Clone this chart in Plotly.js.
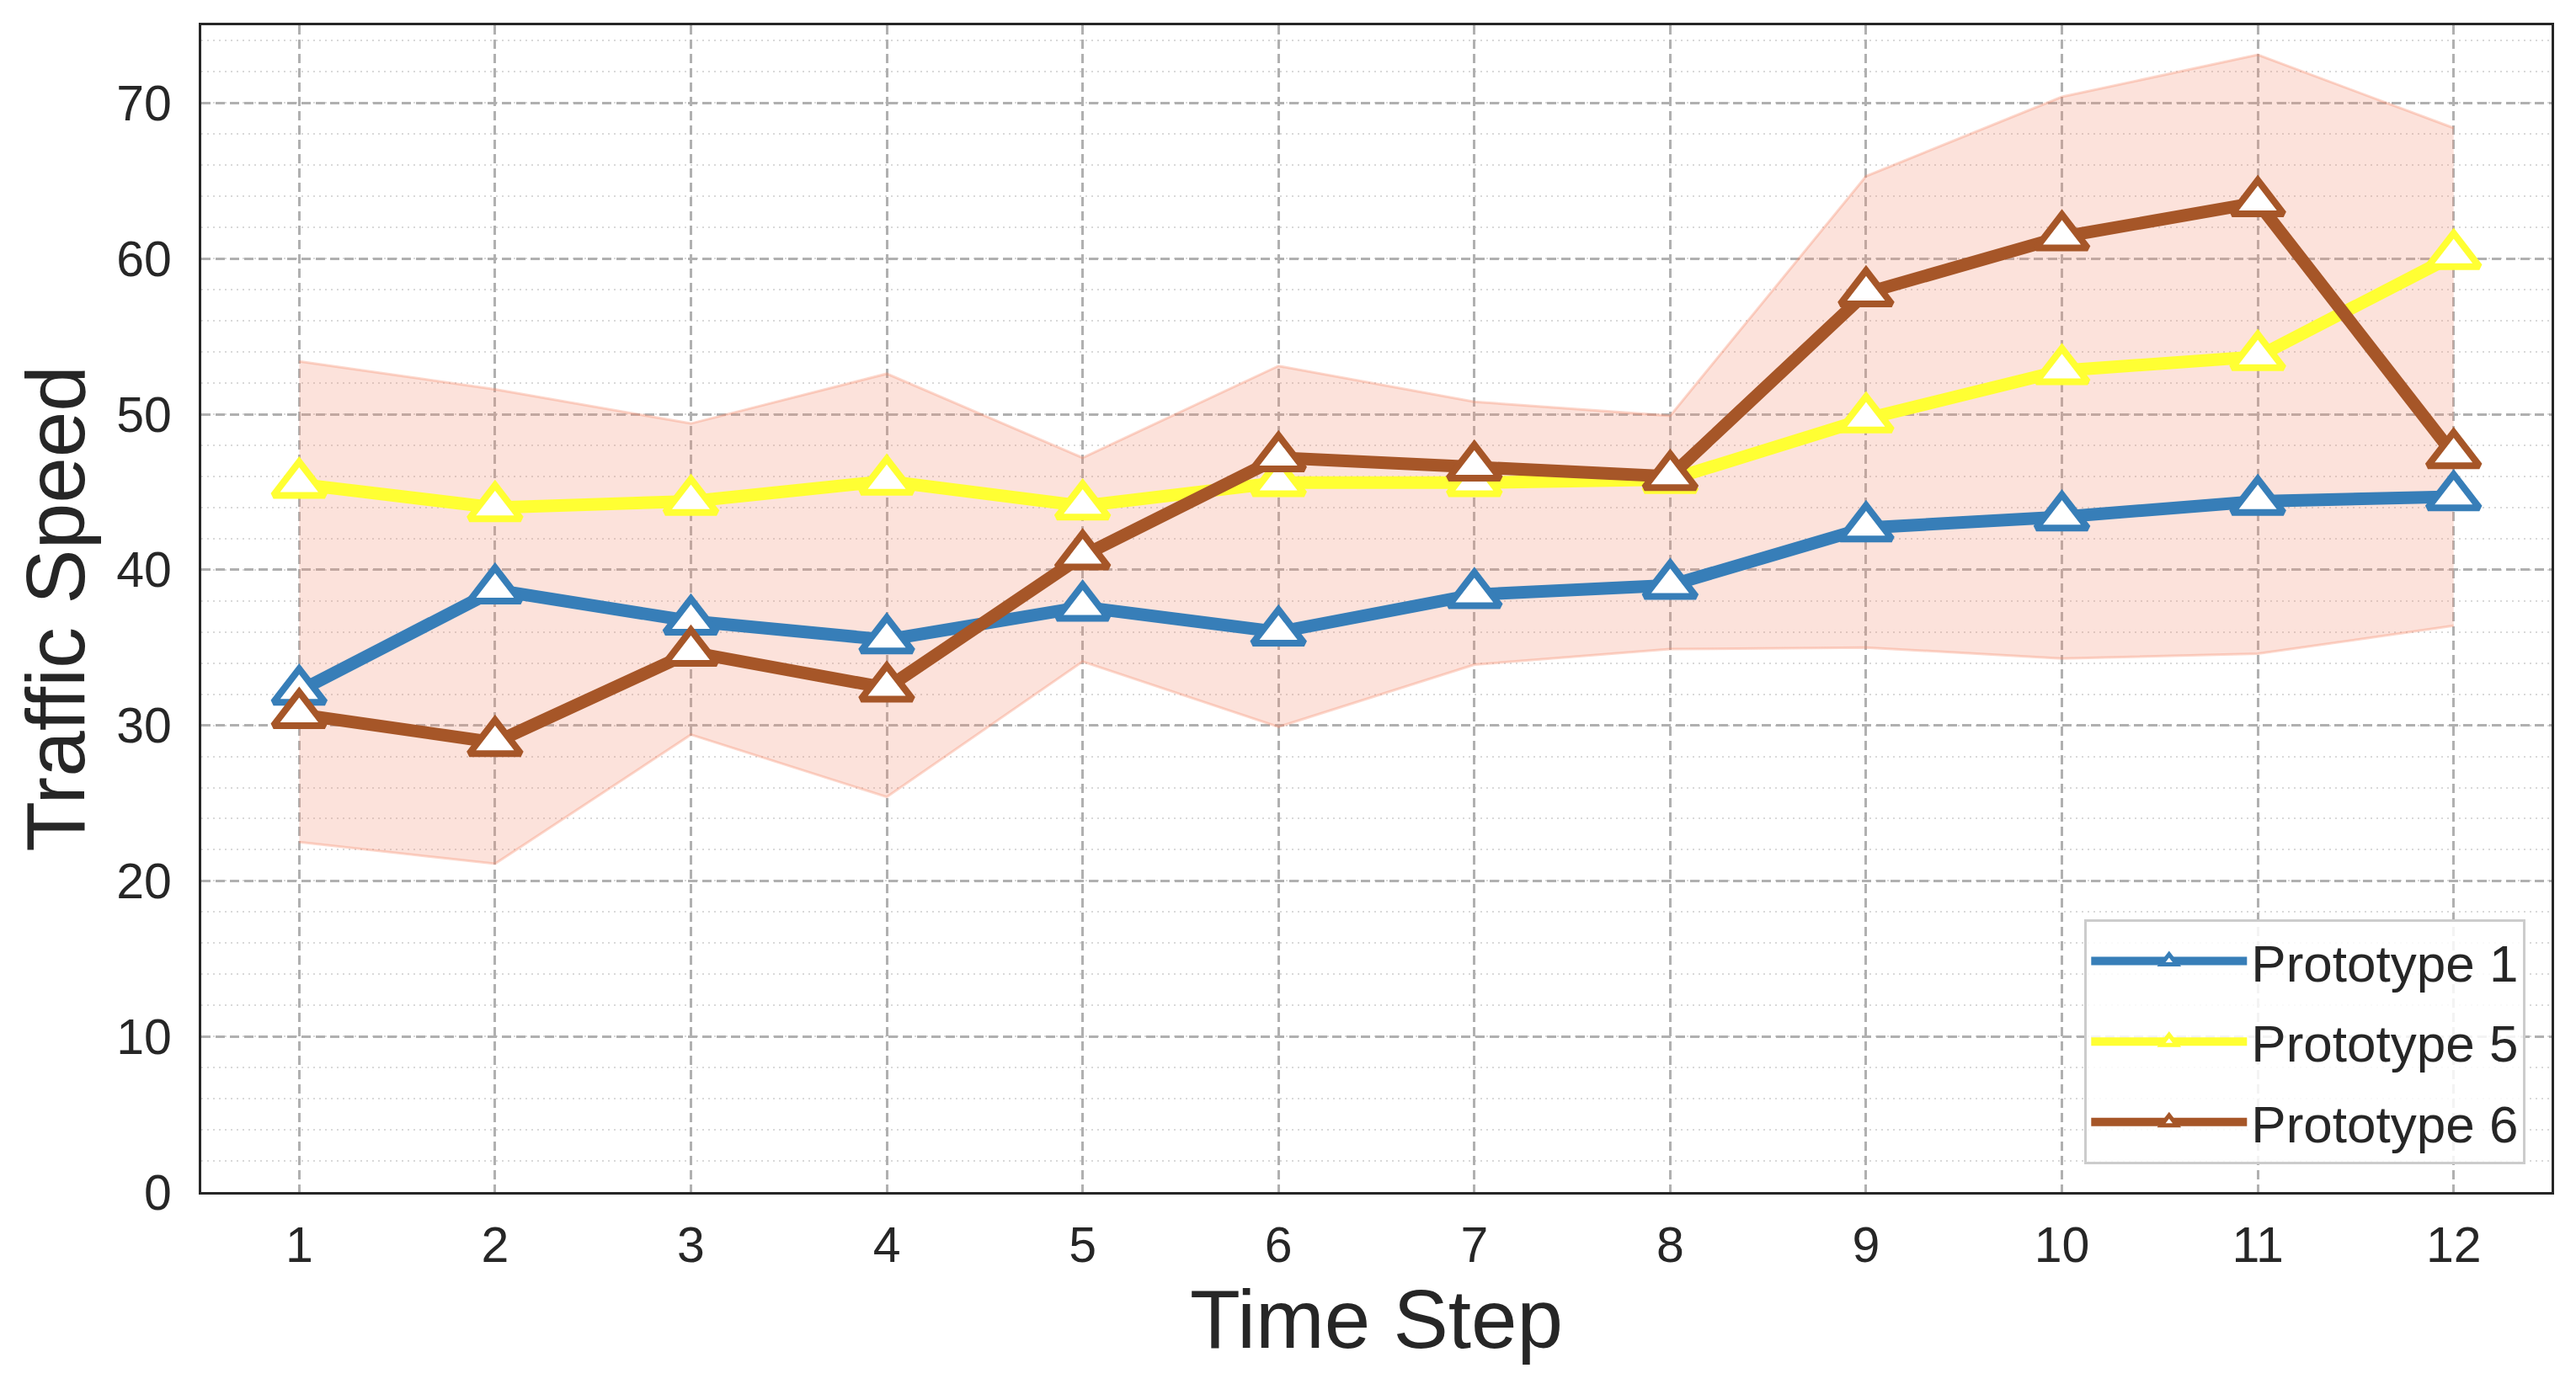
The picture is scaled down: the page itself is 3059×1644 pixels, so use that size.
<!DOCTYPE html>
<html>
<head>
<meta charset="utf-8">
<script src="https://cdn.plot.ly/plotly-3.0.1.min.js"></script>
<style>
  html, body { margin: 0; padding: 0; background: #ffffff; }
  #chart { width: 3059px; height: 1644px; }
</style>
</head>
<body>
<div id="chart"></div>
<script>
// ---- data ----
const timeSteps = [1, 2, 3, 4, 5, 6, 7, 8, 9, 10, 11, 12];
const tickLabels = ["1", "2", "3", "4", "5", "6", "7", "8", "9", "10", "11", "12"];
const prototype1 = [32.2, 38.7, 36.7, 35.5, 37.6, 36.0, 38.4, 39.0, 42.7, 43.4, 44.4, 44.7];
const prototype5 = [45.5, 44.0, 44.4, 45.7, 44.1, 45.6, 45.6, 45.8, 49.7, 52.8, 53.7, 60.2];
const prototype6 = [30.7, 28.9, 34.7, 32.4, 40.9, 47.2, 46.6, 46.0, 57.8, 61.4, 63.6, 47.4];
const bandUpper  = [53.4, 51.6, 49.4, 52.6, 47.2, 53.1, 50.8, 49.9, 65.3, 70.4, 73.1, 68.4];
const bandLower  = [22.5, 21.1, 29.4, 25.4, 34.1, 29.9, 33.9, 34.9, 35.0, 34.3, 34.6, 36.4];
const seriesNames = ["Prototype 1", "Prototype 5", "Prototype 6"];
const yTickValues = [0, 10, 20, 30, 40, 50, 60, 70];

// ---- styles ----
const colors = ["#377EB8", "#FFFF33", "#A65628"];
const textColor = "#262626";
const fontFamily = "Liberation Sans, Arial, Helvetica, sans-serif";
const bandFill = "rgba(245,140,110,0.25)";
const bandEdge = "rgba(245,140,110,0.35)";

function seriesTrace(y, i) {
  return {
    x: timeSteps, y: y, type: "scatter", mode: "lines+markers",
    name: seriesNames[i], legendgroup: "g" + i,
    line: { color: colors[i], width: 15 },
    marker: { symbol: "triangle-up", size: 53, color: "#ffffff",
              line: { color: colors[i], width: 8 } },
    hoverinfo: "x+y+name"
  };
}

const traces = [
  { x: timeSteps, y: bandLower, type: "scatter", mode: "lines",
    line: { color: bandEdge, width: 3 }, showlegend: false, hoverinfo: "skip" },
  { x: timeSteps, y: bandUpper, type: "scatter", mode: "lines", fill: "tonexty",
    fillcolor: bandFill, line: { color: bandEdge, width: 3 },
    showlegend: false, hoverinfo: "skip" },
  seriesTrace(prototype1, 0),
  seriesTrace(prototype5, 1),
  seriesTrace(prototype6, 2)
];

const layout = {
  width: 3059, height: 1644,
  paper_bgcolor: "#ffffff", plot_bgcolor: "#ffffff",
  margin: { l: 239, r: 29, t: 30, b: 228, pad: 0 },
  font: { family: fontFamily, color: textColor, size: 59 },
  showlegend: true,
  legend: {
    x: 0.989, y: 0.024, xanchor: "right", yanchor: "bottom",
    bgcolor: "rgba(255,255,255,0.85)", bordercolor: "#cccccc", borderwidth: 3,
    font: { family: fontFamily, size: 62, color: textColor },
    traceorder: "grouped", tracegroupgap: 12, itemwidth: 185
  },
  xaxis: {
    range: [0.5, 12.5], tickmode: "array", tickvals: timeSteps, ticktext: tickLabels,
    showline: true, mirror: true, linecolor: textColor, linewidth: 3.3,
    showgrid: true, gridcolor: "#b0b0b0", gridwidth: 3, griddash: "11px,6px",
    zeroline: false, ticks: "", ticklabelstandoff: 9,
    tickfont: { family: fontFamily, size: 59, color: textColor },
    title: { text: "Time Step", font: { family: fontFamily, size: 98, color: textColor }, standoff: 5 }
  },
  yaxis: {
    range: [0, 75], tickmode: "array", tickvals: yTickValues,
    showline: true, mirror: true, linecolor: textColor, linewidth: 3.3,
    showgrid: true, gridcolor: "#b0b0b0", gridwidth: 3, griddash: "11px,6px",
    zeroline: false, ticks: "", ticklabelstandoff: 20,
    minor: { dtick: 2, showgrid: true, gridcolor: "#d9d9d9", gridwidth: 2, griddash: "2px,5px", ticks: "" },
    tickfont: { family: fontFamily, size: 59, color: textColor },
    title: { text: "Traffic Speed", font: { family: fontFamily, size: 98, color: textColor }, standoff: 6 }
  }
};

Plotly.newPlot("chart", traces, layout, { displayModeBar: false, staticPlot: true });
</script>
</body>
</html>
